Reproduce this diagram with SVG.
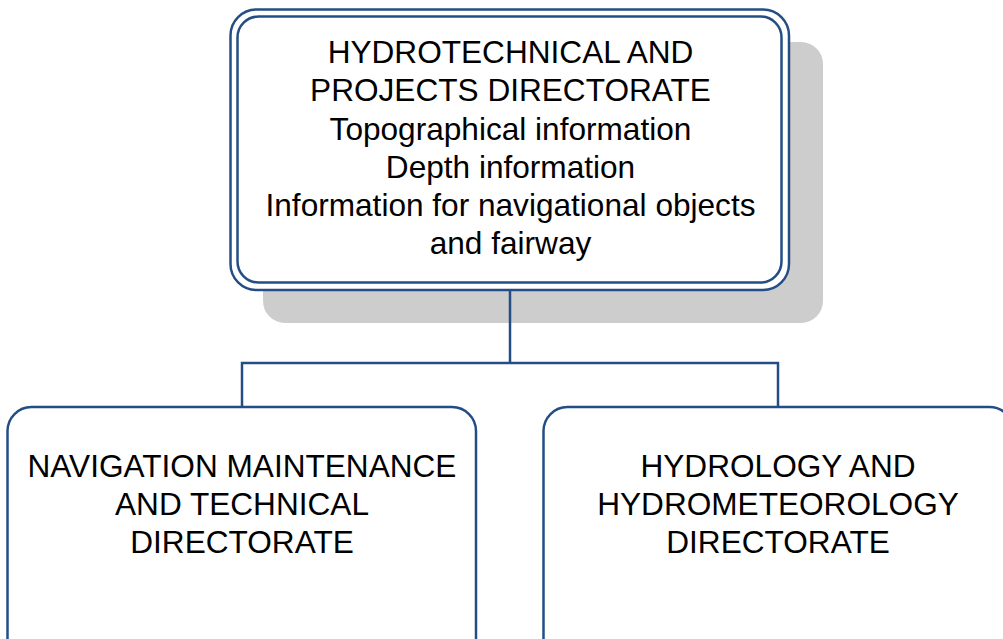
<svg xmlns="http://www.w3.org/2000/svg" width="1003" height="639" viewBox="0 0 1003 639">
<style>
.box{fill:#fff;stroke:#244d85;stroke-width:2.5}
.ln{fill:none;stroke:#244d85;stroke-width:2.5}
.t{font-family:"Liberation Sans",Arial,sans-serif;font-size:31.6px;fill:#000;text-anchor:middle}
</style>
<rect width="1003" height="639" fill="#fff"/>
<g id="top">
<rect x="263" y="42" width="560" height="281" rx="22" fill="#cdcdcd"/>
<rect class="box" x="230.5" y="9.5" width="558.5" height="280.5" rx="26"/>
<rect class="box" x="237.5" y="16.5" width="544" height="266" rx="21"/>
<text class="t" x="510.5" y="63">HYDROTECHNICAL AND</text>
<text class="t" x="510.5" y="101">PROJECTS DIRECTORATE</text>
<text class="t" x="510.5" y="140">Topographical information</text>
<text class="t" x="510.5" y="178">Depth information</text>
<text class="t" x="510.5" y="216">Information for navigational objects</text>
<text class="t" x="510.5" y="254">and fairway</text>
</g>
<g id="connectors">
<path class="ln" d="M510 290 V363 M242 407 V363 H778 V407"/>
</g>
<g id="left">
<rect class="box" x="7.5" y="407" width="468.5" height="260" rx="24"/>
<text class="t" x="242" y="477">NAVIGATION MAINTENANCE</text>
<text class="t" x="242" y="515">AND TECHNICAL</text>
<text class="t" x="242" y="553">DIRECTORATE</text>
</g>
<g id="right">
<rect class="box" x="543.5" y="407" width="470" height="260" rx="24"/>
<text class="t" x="778" y="477">HYDROLOGY AND</text>
<text class="t" x="778" y="515">HYDROMETEOROLOGY</text>
<text class="t" x="778" y="553">DIRECTORATE</text>
</g>
</svg>
